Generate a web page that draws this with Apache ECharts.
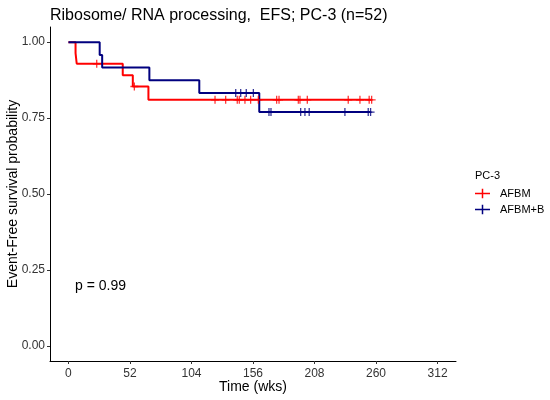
<!DOCTYPE html>
<html>
<head>
<meta charset="utf-8">
<script src="https://cdn.jsdelivr.net/npm/echarts@6/dist/echarts.min.js"></script>
<style>html,body{margin:0;padding:0;background:#fff}#c{width:550px;height:400px}</style>
</head>
<body>
<div id="c"></div>
<script>
// Kaplan-Meier step data (time in weeks, survival probability)
const groupNames = ['AFBM', 'AFBM+B'];
const afbmTimes = [0, 6, 7, 45.9, 54.4, 67.6, 256.3];
const afbmSurv = [1, 0.964, 0.929, 0.891, 0.854, 0.81, 0.81];
const afbmCensor = [23.9, 55.7, 123.9, 132.9, 142.7, 144.4, 149.2, 154, 160.5, 176, 178, 194.3, 195.7, 201.9, 236.5, 246.4, 254.2, 256.3];
const afbmbTimes = [0, 26.4, 28.5, 68.4, 110.6, 161.3, 255.4];
const afbmbSurv = [1, 0.958, 0.917, 0.875, 0.833, 0.77, 0.77];
const afbmbCensor = [141.4, 145.6, 150.3, 156.3, 169.5, 171.2, 196.3, 199.9, 203.5, 233.7, 253.4, 255.4];
const xTicks = [0, 52, 104, 156, 208, 260, 312];
const yTicks = [0, 0.25, 0.5, 0.75, 1];
const colors = ['#ff0000', '#00007f'];

function stepAt(times, surv, t) {
  let s = surv[0];
  for (let i = 0; i < times.length; i++) { if (times[i] <= t) s = surv[i]; }
  return s;
}
const pairs = (a, b) => a.map((v, i) => [v, b[i]]);
const censorPts = (c, times, surv) => c.map(t => [t, stepAt(times, surv, t)]);

const plus = 'path://M4.2,0H5.8V4.2H10V5.8H5.8V10H4.2V5.8H0V4.2H4.2Z';
const FONT = 'Liberation Sans, Arial, sans-serif';

const chart = echarts.init(document.getElementById('c'), null, {renderer: 'canvas'});
chart.setOption({
  animation: false,
  backgroundColor: '#fff',
  title: {
    text: 'Ribosome/ RNA processing,  EFS; PC-3 (n=52)',
    left: 45, top: 3,
    textStyle: {fontFamily: FONT, fontSize: 16, fontWeight: 'normal', color: '#000'}
  },
  grid: {left: 50, right: 94, top: 27, bottom: 39, containLabel: false, outerBoundsMode: 'none'},
  legend: {
    orient: 'vertical', left: 470, top: 183,
    itemWidth: 15, itemHeight: 10, itemGap: 5,
    icon: 'path://M0,4.2H16V5.8H0Z M7.2,0H8.8V10H7.2Z',
    data: groupNames,
    textStyle: {fontFamily: FONT, fontSize: 11, color: '#000', padding: [0, 0, 0, 5]}
  },
  graphic: [
    {type: 'text', left: 475, top: 170, style: {text: 'PC-3', font: '11px ' + FONT, fill: '#000'}},
    {type: 'text', left: 75, top: 279, style: {text: 'p = 0.99', font: '14px ' + FONT, fill: '#000'}}
  ],
  xAxis: {
    type: 'value', min: -15.6, max: 327.6,
    name: 'Time (wks)', nameLocation: 'middle', nameGap: 19, nameMoveOverlap: false,
    nameTextStyle: {fontFamily: FONT, fontSize: 14, color: '#000'},
    axisLine: {show: true, onZero: false, lineStyle: {color: '#000', width: 1}},
    axisTick: {show: true, customValues: xTicks, length: 3, lineStyle: {color: '#333'}},
    axisLabel: {customValues: xTicks, fontFamily: FONT, fontSize: 12, color: '#333', margin: 7},
    splitLine: {show: false}
  },
  yAxis: {
    type: 'value', min: -0.05, max: 1.05,
    name: 'Event-Free survival probability', nameLocation: 'middle', nameGap: 30, nameMoveOverlap: false,
    nameTextStyle: {fontFamily: FONT, fontSize: 14, color: '#000'},
    axisLine: {show: true, onZero: false, lineStyle: {color: '#000', width: 1}},
    axisTick: {show: true, customValues: yTicks, length: 3, lineStyle: {color: '#333'}},
    axisLabel: {customValues: yTicks, fontFamily: FONT, fontSize: 12, color: '#333', margin: 5,
      formatter: v => v.toFixed(2)},
    splitLine: {show: false}
  },
  series: [
    {name: groupNames[0], type: 'line', step: 'end', data: pairs(afbmTimes, afbmSurv),
     showSymbol: false, symbol: 'none', color: colors[0], lineStyle: {width: 2, color: colors[0]}, z: 2},
    {name: groupNames[1], type: 'line', step: 'end', data: pairs(afbmbTimes, afbmbSurv),
     showSymbol: false, symbol: 'none', color: colors[1], lineStyle: {width: 2, color: colors[1]}, z: 2},
    {name: groupNames[0], type: 'scatter', data: censorPts(afbmCensor, afbmTimes, afbmSurv),
     symbol: plus, symbolSize: [8, 8], itemStyle: {color: colors[0]}, z: 3},
    {name: groupNames[1], type: 'scatter', data: censorPts(afbmbCensor, afbmbTimes, afbmbSurv),
     symbol: plus, symbolSize: [8, 8], itemStyle: {color: colors[1]}, z: 3}
  ]
});
</script>
</body>
</html>
